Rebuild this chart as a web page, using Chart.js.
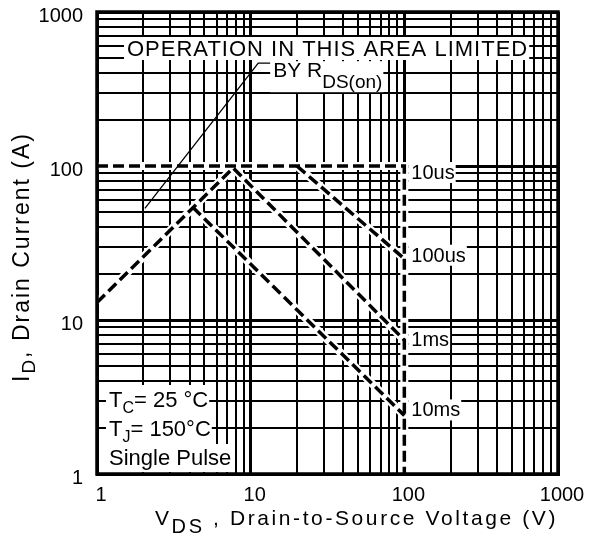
<!DOCTYPE html>
<html>
<head>
<meta charset="utf-8">
<script src="https://cdn.jsdelivr.net/npm/chart.js@4.4.1/dist/chart.umd.min.js"></script>
<style>
  body { margin: 0; background: #fff; }
</style>
</head>
<body>
<canvas id="soaChart" width="600" height="536"></canvas>
<script>
// axis ticks (log-log, 1..1000 both ways)
const tickValues = [1, 2, 3, 4, 5, 6, 7, 8, 9, 10, 20, 30, 40, 50, 60, 70, 80, 90,
  100, 200, 300, 400, 500, 600, 700, 800, 900, 1000];
const tickLabels = ["1", "10", "100", "1000"];

// RDS(on) limit line (thin), last point is the leader to the text
const rdsV = [2.05, 11.2, 13.8];
const rdsI = [53, 465, 465];

// pulse curves, VDS (V) / ID (A)
const us10V = [1, 100, 100];
const us10I = [100, 100, 1];
const us100V = [20, 100];
const us100I = [100, 25];
const ms1V = [1, 7.7, 100];
const ms1I = [13, 97, 7.4];
const ms10V = [4.2, 100];
const ms10I = [54, 2.4];

const curveNames = ["10us", "100us", "1ms", "10ms"];
const curveEndI = [us10I[1], us100I[1], ms1I[2], ms10I[1]];

const FONT = "'Liberation Sans', Arial, sans-serif";
Chart.defaults.font.family = FONT;
Chart.defaults.color = "#000";

function pts(xs, ys) {
  return xs.map((x, i) => ({ x: x, y: ys[i] }));
}

const curves = [
  pts(us10V, us10I),
  pts(us100V, us100I),
  pts(ms1V, ms1I),
  pts(ms10V, ms10I),
];

const datasets = [];
curves.forEach((c) => {
  datasets.push({
    data: c,
    borderColor: "#000",
    borderWidth: 3.5,
    borderDash: [11, 5],
    pointRadius: 0,
    fill: false,
    order: 0,
  });
  datasets.push({
    data: c,
    borderColor: "#fff",
    borderWidth: 8,
    pointRadius: 0,
    fill: false,
    order: 1,
  });
});
datasets.push({
  data: pts(rdsV, rdsI),
  borderColor: "#000",
  borderWidth: 1.3,
  pointRadius: 0,
  fill: false,
  order: 0,
});

function isDecade(v) {
  return tickLabels.includes(String(v));
}

// draws a run of [text, size, dy] parts, returns width
function rich(ctx, x, y, parts, spacing, measureOnly) {
  let cx = x;
  ctx.letterSpacing = (spacing || 0) + "px";
  parts.forEach(([t, size, dy]) => {
    ctx.font = size + "px " + FONT;
    if (!measureOnly) ctx.fillText(t, cx, y + (dy || 0));
    cx += ctx.measureText(t).width;
  });
  ctx.letterSpacing = "0px";
  return cx - x;
}

function boxed(ctx, x, y, parts, spacing, top, bottom) {
  const w = rich(ctx, x, y, parts, spacing, true);
  ctx.fillStyle = "#fff";
  ctx.fillRect(x - 3, y - top, w + 4, top + bottom);
  ctx.fillStyle = "#000";
  rich(ctx, x, y, parts, spacing);
}

const annotations = {
  id: "annotations",
  afterDatasetsDraw(chart) {
    const ctx = chart.ctx;
    const ca = chart.chartArea;
    const xs = chart.scales.x;
    const ys = chart.scales.y;
    ctx.save();
    ctx.textBaseline = "alphabetic";
    ctx.textAlign = "left";
    ctx.fillStyle = "#000";

    // limit text
    boxed(ctx, ca.left + 30, ca.top + 44,
      [["OPERATION IN THIS AREA LIMITED", 22, 0]], 1, 19, 4);
    const lx = xs.getPixelForValue(rdsV[2]);
    const ly = ys.getPixelForValue(rdsI[2]);
    boxed(ctx, lx + 1, ly + 14,
      [["BY R", 21, 0], ["DS(on)", 19, 11]], 0, 16, 15);

    // curve labels
    const offs = [6, -4, -1, -6];
    curveNames.forEach((n, i) => {
      const x = xs.getPixelForValue(100) + 7;
      const y = ys.getPixelForValue(curveEndI[i]) + offs[i] + 7;
      boxed(ctx, x, y, [[n, 20, 0]], 0, 17, 4);
    });

    // conditions box
    const bx = ca.left + 12;
    boxed(ctx, bx, ca.bottom - 67,
      [["T", 22, 0], ["C", 16, 6], ["= 25 \u00B0C", 22, 0]], 0, 22, 8);
    boxed(ctx, bx, ca.bottom - 38,
      [["T", 22, 0], ["J", 16, 6], ["= 150\u00B0C", 22, 0]], 0, 21, 8);
    boxed(ctx, bx, ca.bottom - 9,
      [["Single Pulse", 22, 0]], 0, 21, 7);

    // frame
    ctx.strokeStyle = "#000";
    ctx.lineWidth = 3.5;
    ctx.strokeRect(ca.left, ca.top, ca.right - ca.left, ca.bottom - ca.top);

    // axis titles
    rich(ctx, 155, 525,
      [["V", 21, 0], ["DS", 20, 8], [" , Drain-to-Source Voltage (V)", 21, 0]], 2.6);

    ctx.translate(29, 382);
    ctx.rotate(-Math.PI / 2);
    rich(ctx, 0, 0,
      [["I", 23, 0], ["D", 19, 6], [", Drain Current (A)", 23, 0]], 2);
    ctx.restore();
  },
};

const gridCfg = {
  color: "#000",
  lineWidth: (c) => (c.tick && isDecade(c.tick.value) ? 3 : 2),
  drawTicks: false,
};

new Chart(document.getElementById("soaChart").getContext("2d"), {
  type: "line",
  data: { datasets: datasets },
  options: {
    responsive: false,
    animation: false,
    layout: { padding: { top: 12, right: 42, left: 0, bottom: 0 } },
    plugins: {
      legend: { display: false },
      tooltip: { enabled: false },
    },
    scales: {
      x: {
        type: "logarithmic",
        min: 1,
        max: 1000,
        afterBuildTicks: (s) => {
          s.ticks = tickValues.map((v) => ({ value: v }));
        },
        afterFit: (s) => {
          s.height = 62;
          s.paddingLeft = 0;
          s.paddingRight = 0;
        },
        ticks: {
          autoSkip: false,
          maxRotation: 0,
          padding: 9,
          labelOffset: 4,
          font: { size: 20 },
          callback: (v) => (isDecade(v) ? String(v) : ""),
        },
        grid: gridCfg,
        border: { display: true, color: "#000", width: 3 },
      },
      y: {
        type: "logarithmic",
        min: 1,
        max: 1000,
        afterBuildTicks: (s) => {
          s.ticks = tickValues.map((v) => ({ value: v }));
        },
        afterFit: (s) => {
          s.width = 97;
          s.paddingTop = 0;
          s.paddingBottom = 0;
        },
        ticks: {
          autoSkip: false,
          padding: 14,
          labelOffset: 4,
          font: { size: 20 },
          callback: (v) => (isDecade(v) ? String(v) : ""),
        },
        grid: gridCfg,
        border: { display: true, color: "#000", width: 3 },
      },
    },
  },
  plugins: [annotations],
});
</script>
</body>
</html>
